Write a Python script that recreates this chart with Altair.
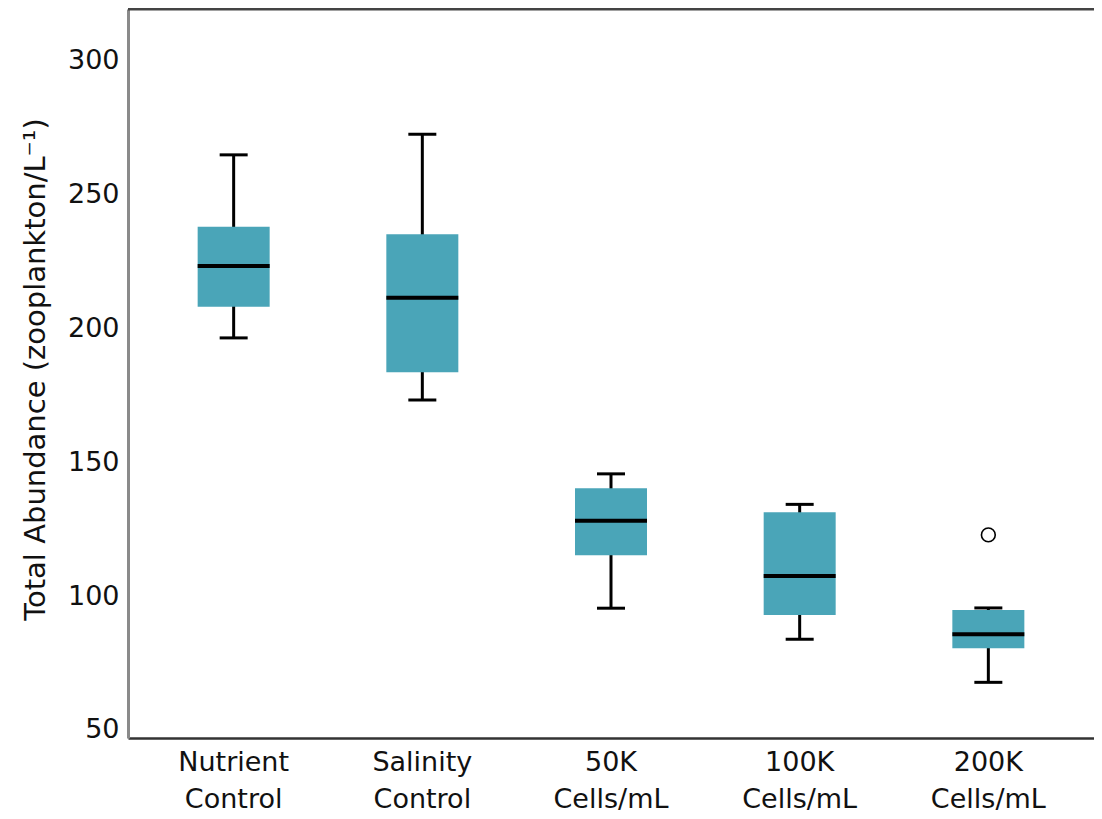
import altair as alt
import pandas as pd

groups = ["Nutrient Control", "Salinity Control", "50K Cells/mL", "100K Cells/mL", "200K Cells/mL"]
lower = [196.5, 173.3, 95.5, 83.9, 67.8]
q1 = [208.1, 183.7, 115.3, 93.0, 80.5]
median = [223.4, 211.5, 128.2, 107.5, 85.8]
q3 = [238.0, 235.2, 140.3, 131.4, 94.8]
upper = [264.9, 272.6, 145.7, 134.3, 95.6]

outlier_groups = ["200K Cells/mL"]
outlier_values = [122.9]

y_ticks = [50, 100, 150, 200, 250, 300]
y_domain = [47, 319.4]

df = pd.DataFrame({"group": groups, "lower": lower, "q1": q1, "median": median,
                   "q3": q3, "upper": upper})
df_out = pd.DataFrame({"group": outlier_groups, "value": outlier_values})

FONT = "DejaVu Sans"
W, H = 966, 729

x_enc = alt.X("group:N", sort=groups,
              scale=alt.Scale(paddingInner=0, paddingOuter=0.06),
              axis=alt.Axis(title=None, labelAngle=0, ticks=False,
                            labelExpr="split(datum.label, ' ')",
                            labelFont=FONT, labelFontSize=27, labelColor="#111",
                            labelLineHeight=37, labelPadding=11,
                            domainColor="#333", domainWidth=2.5))
y_scale = alt.Scale(domain=y_domain, nice=False, zero=False)
y_axis = alt.Axis(title="Total Abundance (zooplankton/L⁻¹)", values=y_ticks,
                  grid=False, ticks=False, labelFont=FONT, labelFontSize=27,
                  labelColor="#111", labelPadding=9,
                  titleFont=FONT, titleFontSize=29, titleFontWeight="normal",
                  titleColor="#111", titleX=-93, titleY=360, titleAngle=270,
                  titleAlign="center", titleBaseline="middle",
                  domainColor="#8a8a8a", domainWidth=3)

base = alt.Chart(df)

whisker = base.mark_rule(color="black", strokeWidth=3, opacity=1).encode(
    x=x_enc,
    y=alt.Y("lower:Q", scale=y_scale, axis=y_axis),
    y2="upper:Q",
)
caps_hi = base.mark_tick(color="black", size=28, thickness=3, orient="horizontal",
                         opacity=1).encode(
    x=alt.X("group:N", sort=groups), y="upper:Q")
caps_lo = base.mark_tick(color="black", size=28, thickness=3, orient="horizontal",
                         opacity=1).encode(
    x=alt.X("group:N", sort=groups), y="lower:Q")
box = base.mark_bar(color="#4aa5b8", size=72, opacity=1).encode(
    x=alt.X("group:N", sort=groups), y="q1:Q", y2="q3:Q")
med = base.mark_tick(color="black", size=72, thickness=4, orient="horizontal",
                     opacity=1).encode(
    x=alt.X("group:N", sort=groups), y="median:Q")
out = alt.Chart(df_out).mark_point(shape="circle", filled=False, color="black",
                                   fill="white", fillOpacity=1, size=190,
                                   strokeWidth=1.6, opacity=1).encode(
    x=alt.X("group:N", sort=groups), y="value:Q")
top_border = alt.Chart(df.head(1)).mark_rule(color="#444", strokeWidth=3).encode(
    x=alt.value(0), x2=alt.value(W), y=alt.value(0))

chart = alt.layer(whisker, caps_hi, caps_lo, box, med, out, top_border).properties(
    width=W, height=H,
    autosize=alt.AutoSizeParams(type="none"),
    padding={"left": 120, "top": 1, "right": 0, "bottom": 80},
    background="white",
).configure_view(stroke=None)

chart.save("out.html", embed_options={"renderer": "svg", "actions": False})
